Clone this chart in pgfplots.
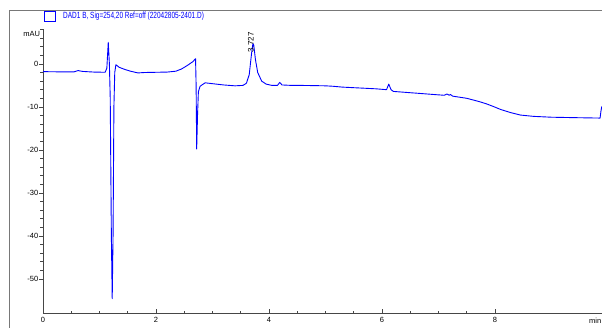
\documentclass[border=0pt]{standalone}
\usepackage{pgfplots}
\pgfplotsset{compat=1.18}
\usepackage{fontspec}
\setmainfont{Liberation Sans}
\definecolor{axgray}{RGB}{70,70,70}
\definecolor{framegray}{RGB}{120,120,120}
\definecolor{trace}{RGB}{0,0,255}
\begin{document}
\begin{tikzpicture}[x=1pt,y=1pt]
\begin{axis}[
  at={(0,0)}, anchor=south west,
  x=56.5pt, y=4.3pt,
  xmin=0, xmax=9.9, ymin=-58, ymax=8.1,
  axis x line=bottom, axis y line=left,
  axis line style={-, axgray, line width=0.6pt},
  every tick/.style={axgray, line width=0.6pt},
  xtick={0,2,4,6,8}, xticklabels={0,2,4,6,8},
  ytick={-50,-40,-30,-20,-10,0}, yticklabels={-50,-40,-30,-20,-10,0},
  minor x tick num=3, minor y tick num=4,
  extra y ticks={2,4,6,8}, extra y tick labels={},
  extra y tick style={major tick length=2.5pt},
  xtick align=inside, ytick align=outside,
  major tick length=4pt, minor tick length=2.5pt,
  tick label style={font=\fontsize{7.5}{7.5}\selectfont, text=black},
  yticklabel style={inner sep=0.5pt},
  xticklabel style={inner sep=0pt, yshift=-4pt},
  /pgf/number format/assume math mode=true,
  clip=false,
]
\addplot[trace, line width=0.9pt, line join=round] coordinates {
(0,-1.8) (0.3,-1.85) (0.55,-1.85) (0.62,-1.55) (0.7,-1.75) (0.9,-1.9) (1.10,-1.95)
(1.13,-1.0) (1.155,5.0) (1.175,0) (1.19,-8) (1.21,-40) (1.225,-54.6) (1.24,-40)
(1.255,-10) (1.27,-2) (1.29,-0.2) (1.35,-0.8) (1.45,-1.3) (1.55,-1.7) (1.68,-2.1)
(1.8,-2.0) (2.0,-1.95) (2.2,-1.9) (2.35,-1.7) (2.45,-1.2) (2.55,-0.4) (2.65,0.5)
(2.70,1.2) (2.71,-5) (2.72,-19.8) (2.735,-12) (2.75,-6.5) (2.78,-5.2) (2.87,-4.4)
(3.0,-4.6) (3.2,-4.9) (3.4,-5.1) (3.54,-5.0) (3.6,-4.5) (3.65,-2.5) (3.69,2.3)
(3.715,4.7) (3.73,4.4) (3.76,1.0) (3.8,-2.0) (3.87,-4.0) (3.95,-4.7) (4.05,-5.0)
(4.15,-5.0) (4.19,-4.3) (4.23,-4.9) (4.4,-5.0) (4.55,-5.0) (4.8,-5.05) (5.0,-5.1)
(5.13,-5.2) (5.3,-5.4) (5.6,-5.6) (5.9,-5.8) (6.08,-6.0) (6.12,-4.7) (6.16,-6.0)
(6.2,-6.4) (6.5,-6.7) (6.8,-7.0) (7.1,-7.3) (7.15,-7.0) (7.19,-7.3) (7.21,-7.1)
(7.25,-7.5) (7.5,-8.0) (7.73,-8.8) (7.85,-9.3) (7.97,-9.9) (8.1,-10.6) (8.27,-11.3)
(8.45,-11.9) (8.68,-12.2) (9.0,-12.4) (9.4,-12.5) (9.86,-12.6) (9.875,-11) (9.89,-9.9)
};
\node[rotate=90, anchor=base west, inner sep=0pt, font=\fontsize{8}{8}\selectfont] at (axis cs:3.727,2.6) {3.727};
\end{axis}
% outer frame
\draw[framegray, line width=0.8pt] (-34,303.3) rectangle (700,-100);
% legend
\draw[trace, line width=0.8pt] (1.3,301.6) rectangle (12,292);
\node[anchor=west, inner sep=0pt, text=trace] at (20,297.3) {\scalebox{0.72}[1]{\fontsize{9}{9}\selectfont DAD1 B, Sig=254,20 Ref=off (22042805-2401.D)}};
% unit labels
\node[anchor=east, inner sep=0pt, font=\fontsize{7.5}{7.5}\selectfont] at (-2.7,279.8) {mAU};
\node[anchor=north east, inner sep=0pt, font=\fontsize{7.5}{7.5}\selectfont] at (558.5,-4.7) {min};
\pgfresetboundingbox
\path[use as bounding box] (-43,-14.7) rectangle (559,313.3);
\end{tikzpicture}
\end{document}
